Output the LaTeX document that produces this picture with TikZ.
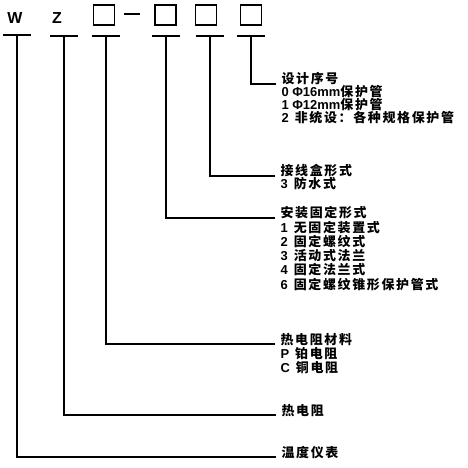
\documentclass[tikz,border=0pt]{standalone}
\usepackage{fontspec}
\setmainfont{Liberation Sans}[BoldFont={Liberation Sans Bold}]
\newfontfamily\cjk{Noto Sans CJK SC}[Scale=1.0,LetterSpace=13]
\newcommand{\zh}[1]{{\cjk #1}}
\newcommand{\opt}[2]{#1\hspace{6bp}\zh{#2}}
\usetikzlibrary{positioning}

\begin{document}
\begin{tikzpicture}[x=1bp,y=-1bp,line width=1.1pt,
  code/.style={font=\fontsize{16}{16}\bfseries\selectfont,inner sep=0pt},
  slot/.style={draw,minimum width=21bp,minimum height=20bp,inner sep=0pt},
  bar/.style={minimum width=26bp,minimum height=0pt,inner sep=0pt},
  lbl/.style={font=\fontsize{13}{14}\bfseries\selectfont,inner ysep=0pt,inner xsep=5bp,anchor=base west}]
  \useasboundingbox (0,0) rectangle (468,468);

  % code row
  \node[code] (w) at (15,18) {W};
  \node[code] (z) at (57,18) {Z};
  \node[slot] (s1) at (104,15) {};
  \node[fill,minimum width=16bp,minimum height=1.5bp,inner sep=0pt] (dash) at (132,14) {};
  \node[slot] (s2) at (165.5,15) {};
  \node[slot] (s3) at (206,15) {};
  \node[slot] (s4) at (251,15) {};

  % T bars under the code row
  \node[bar] (wbar) at (17,35) {};
  \node[bar] (zbar) at (64,36) {};
  \node[bar] (s1bar) at (106,36) {};
  \node[bar] (s2bar) at (166,36) {};
  \node[bar] (s3bar) at (210,36) {};
  \node[bar] (s4bar) at (251,36) {};

  % titles
  \node[lbl] (t4) at (276,84) {\zh{设计序号}};
  \node[lbl] (t3) at (275,176) {\zh{接线盒形式}};
  \node[lbl] (t2) at (275,218) {\zh{安装固定形式}};
  \node[lbl] (t1) at (275,344) {\zh{热电阻材料}};
  \node[lbl] (tz) at (276,415) {\zh{热电阻}};
  \node[lbl] (tw) at (276,457) {\zh{温度仪表}};

  % option lists
  \node[lbl] (t4-1) at ([yshift=-12.8bp]t4.base west) {0 Φ16mm\zh{保护管}};
  \node[lbl] (t4-2) at ([yshift=-25.6bp]t4.base west) {1 Φ12mm\zh{保护管}};
  \node[lbl] (t4-3) at ([yshift=-38.4bp]t4.base west) {\opt{2}{非统设：各种规格保护管}};
  \node[lbl] (t3-1) at ([yshift=-13bp]t3.base west) {\opt{3}{防水式}};
  \foreach \n/\txt [count=\k] in {1/无固定装置式, 2/固定螺纹式, 3/活动式法兰, 4/固定法兰式, 6/固定螺纹锥形保护管式}
    \node[lbl] (t2-\k) at ([yshift=-14.2*\k bp]t2.base west) {\opt{\n}{\txt}};
  \foreach \n/\txt [count=\k] in {P/铂电阻, C/铜电阻}
    \node[lbl] (t1-\k) at ([yshift=-14*\k bp]t1.base west) {\opt{\n}{\txt}};

  % leaders
  \foreach \s/\t in {w/tw, z/tz, s1/t1, s2/t2, s3/t3, s4/t4} {
    \draw (\s bar.west) -- (\s bar.east);
    \draw (\s bar.center) |- (\t.base west);
  }
\end{tikzpicture}
\end{document}
